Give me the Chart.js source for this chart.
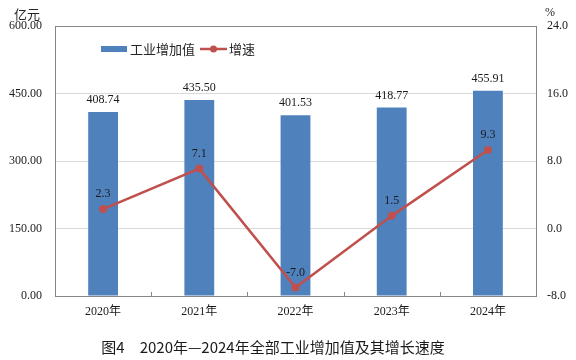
<!DOCTYPE html>
<html>
<head>
<meta charset="utf-8">
<script src="https://cdn.jsdelivr.net/npm/chart.js@4/dist/chart.umd.min.js"></script>
<style>
html,body{margin:0;padding:0;background:#fff;}
#wrap{width:576px;height:360px;position:relative;}
</style>
</head>
<body>
<div id="wrap"><canvas id="c" width="576" height="360"></canvas></div>
<script>
const categories = ['2020年', '2021年', '2022年', '2023年', '2024年'];
const valueAdded = [408.74, 435.50, 401.53, 418.77, 455.91];
const growthRate = [2.3, 7.1, -7.0, 1.5, 9.3];
const leftTicks = [0, 150, 300, 450, 600];
const rightTicks = [-8, 0, 8, 16, 24];
const seriesNames = ['工业增加值', '增速'];
const leftUnit = '亿元';
const rightUnit = '%';
const titleText = '图4　2020年—2024年全部工业增加值及其增长速度';

const BAR = '#4F81BD';
const LINE = '#C0504D';
const AXIS = '#868686';
const GRID = '#D9D9D9';
const SERIF = "'Liberation Serif', 'Noto Sans CJK SC', serif";
const SANS = "'Noto Sans CJK SC', 'Noto Sans', sans-serif";

const decor = {
  id: 'decor',
  afterDatasetsDraw(chart) {
    const ctx = chart.ctx;
    const area = chart.chartArea;
    ctx.save();
    // top border of plot box
    ctx.strokeStyle = AXIS; ctx.lineWidth = 1;
    ctx.beginPath(); ctx.moveTo(area.left, Math.round(area.top) + 0.5); ctx.lineTo(area.right, Math.round(area.top) + 0.5); ctx.stroke();
    // inside tick marks on category boundaries
    const step = (area.right - area.left) / categories.length;
    for (let i = 1; i < categories.length; i++) {
      const px = Math.round(area.left + step * i) + 0.5;
      ctx.beginPath(); ctx.moveTo(px, area.bottom); ctx.lineTo(px, area.bottom - 4); ctx.stroke();
    }
    // data labels
    ctx.fillStyle = '#1a1a1a';
    ctx.font = '12px ' + SERIF;
    ctx.textAlign = 'center'; ctx.textBaseline = 'middle';
    const barMeta = chart.getDatasetMeta(1);
    barMeta.data.forEach((el, i) => {
      ctx.fillText(valueAdded[i].toFixed(2), el.x, el.y - 12);
    });
    const lineMeta = chart.getDatasetMeta(0);
    lineMeta.data.forEach((el, i) => {
      ctx.fillText(growthRate[i].toFixed(1), el.x, el.y - 15);
    });
    // legend
    ctx.fillStyle = BAR;
    ctx.fillRect(101, 46, 26, 6);
    ctx.fillStyle = '#262626';
    ctx.font = '13px ' + SANS;
    ctx.textAlign = 'left';
    ctx.fillText(seriesNames[0], 130, 49);
    ctx.strokeStyle = LINE; ctx.lineWidth = 2.5;
    ctx.beginPath(); ctx.moveTo(200, 49); ctx.lineTo(227, 49); ctx.stroke();
    ctx.fillStyle = LINE;
    ctx.beginPath(); ctx.arc(213.5, 49, 3.5, 0, Math.PI * 2); ctx.fill();
    ctx.fillStyle = '#262626';
    ctx.fillText(seriesNames[1], 229, 49);
    // units
    ctx.font = '13px ' + SANS;
    ctx.textAlign = 'center';
    ctx.fillText(leftUnit, 27, 14);
    ctx.font = '12px ' + SERIF;
    ctx.fillText(rightUnit, 550, 13);
    // title
    ctx.fillStyle = '#1a1a1a';
    ctx.font = '15px ' + SANS;
    ctx.fillText(titleText, 273, 347);
    ctx.restore();
  }
};

new Chart(document.getElementById('c'), {
  data: {
    labels: categories,
    datasets: [
      {
        type: 'line', label: seriesNames[1], data: growthRate, yAxisID: 'y1',
        borderColor: LINE, backgroundColor: LINE, borderWidth: 2.5,
        pointRadius: 4, pointBackgroundColor: LINE, pointBorderColor: LINE, pointBorderWidth: 0,
        tension: 0, order: 0
      },
      {
        type: 'bar', label: seriesNames[0], data: valueAdded, yAxisID: 'y',
        backgroundColor: BAR, borderWidth: 0,
        categoryPercentage: 1.0, barPercentage: 0.31, order: 1
      }
    ]
  },
  options: {
    responsive: false, animation: false,
    layout: { padding: { top: 26, left: 0, right: 0, bottom: 0 } },
    plugins: { legend: { display: false }, tooltip: { enabled: false } },
    scales: {
      x: {
        offset: true,
        grid: { display: false, drawTicks: false },
        border: { display: true, color: AXIS, width: 1 },
        ticks: { color: '#1a1a1a', font: { family: SERIF, size: 12 }, padding: 9, maxRotation: 0 },
        afterFit(s) { s.height = 64; }
      },
      y: {
        position: 'left', min: 0, max: 600,
        afterBuildTicks(s) { s.ticks = leftTicks.map(v => ({ value: v })); },
        grid: {
          drawTicks: false,
          color: (c) => (c.tick && (c.tick.value === 600 || c.tick.value === 0)) ? AXIS : GRID,
          lineWidth: 1
        },
        border: { display: true, color: AXIS, width: 1 },
        ticks: { color: '#1a1a1a', font: { family: SERIF, size: 12 }, padding: 13,
          callback: (v) => Number(v).toFixed(2) },
        afterFit(s) { s.width = 55; }
      },
      y1: {
        position: 'right', min: -8, max: 24,
        afterBuildTicks(s) { s.ticks = rightTicks.map(v => ({ value: v })); },
        grid: { display: false, drawTicks: false },
        border: { display: true, color: AXIS, width: 1 },
        ticks: { color: '#1a1a1a', font: { family: SERIF, size: 12 }, padding: 11,
          callback: (v) => Number(v).toFixed(1) },
        afterFit(s) { s.width = 40; }
      }
    }
  },
  plugins: [decor]
});
</script>
</body>
</html>
